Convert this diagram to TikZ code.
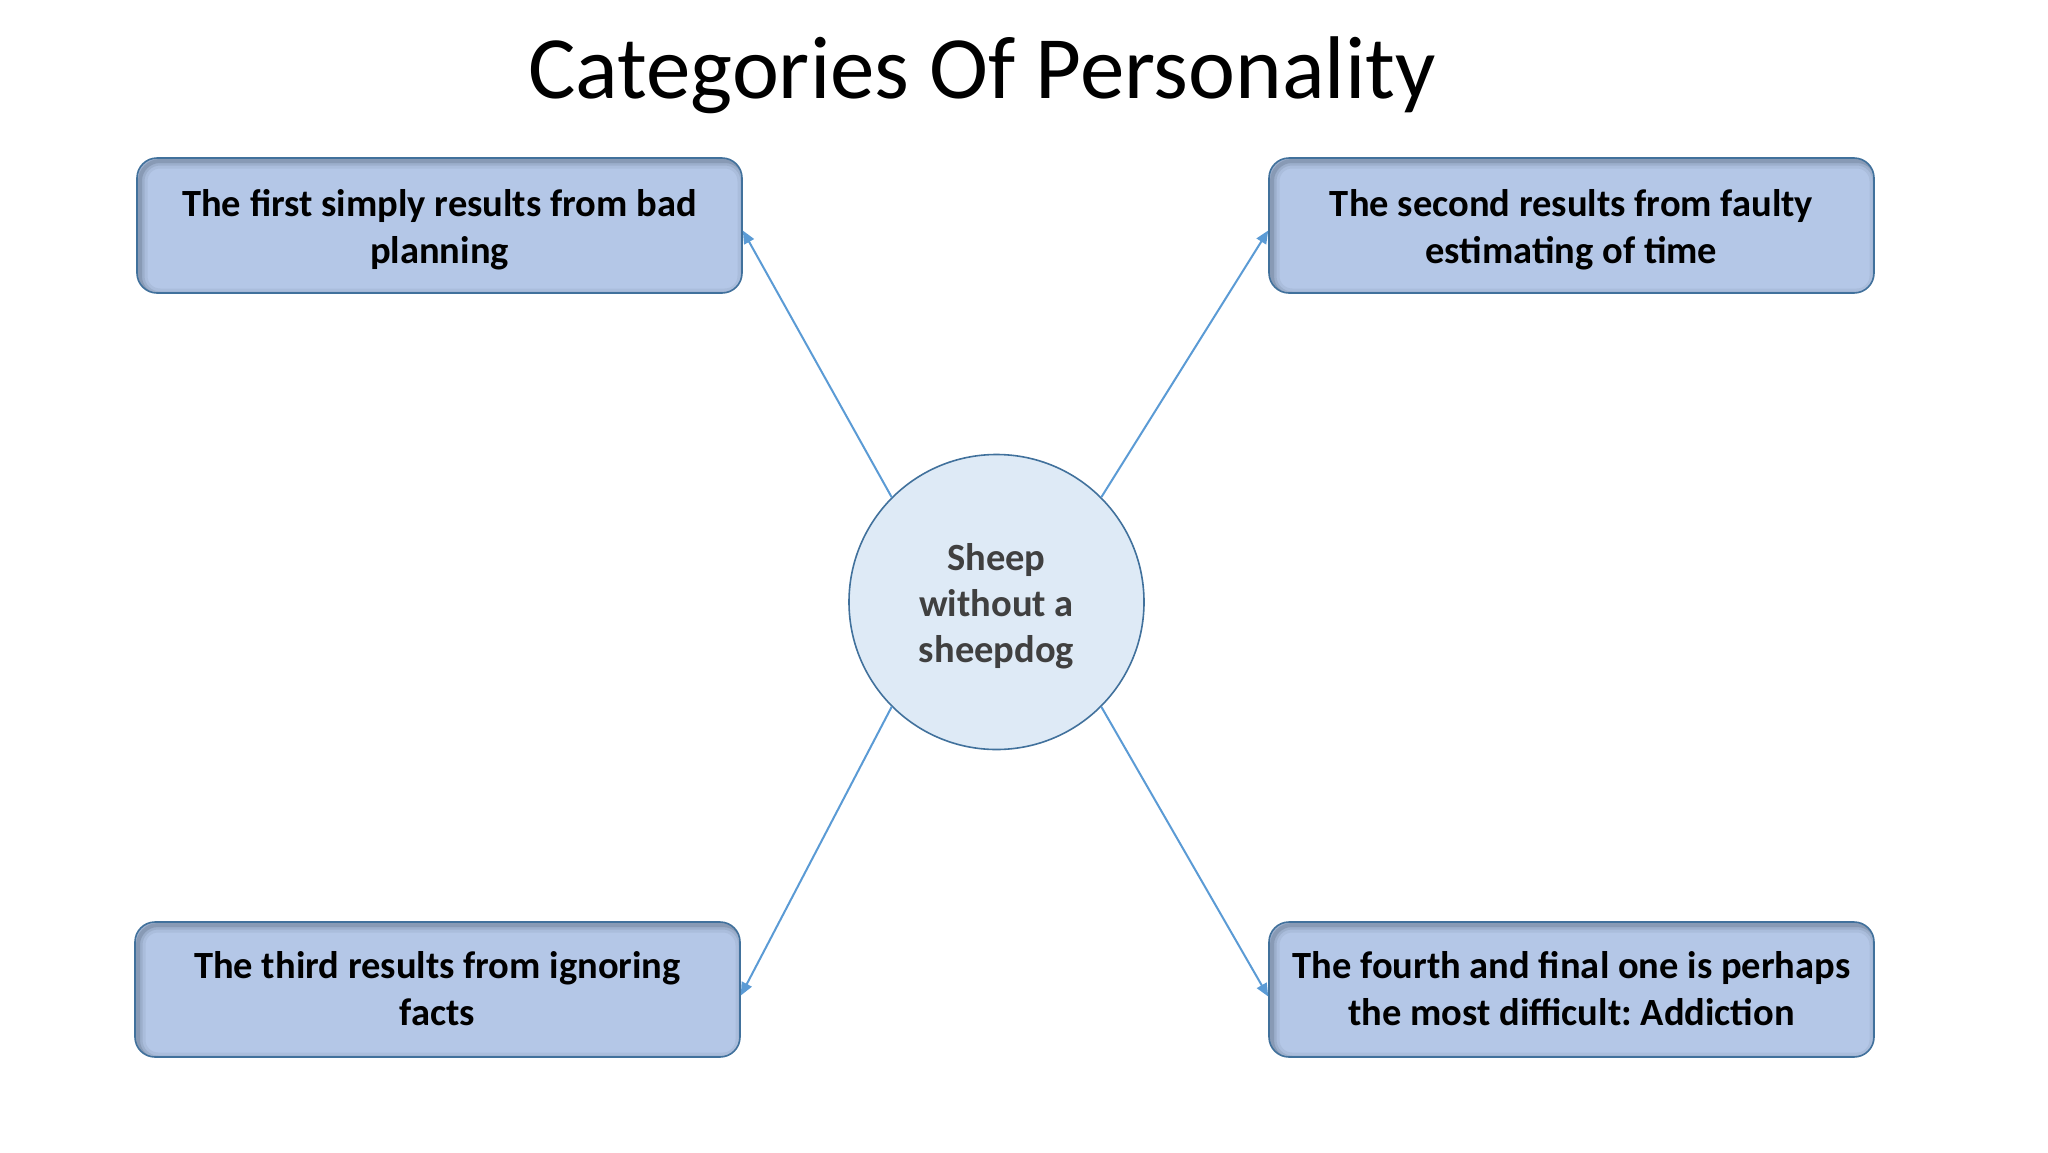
\documentclass[tikz,border=0pt]{standalone}
\usepackage{fontspec}
\setmainfont{Carlito}
\usetikzlibrary{arrows.meta}
\frenchspacing
\definecolor{boxfill}{HTML}{B4C7E7}
\definecolor{boxborder}{HTML}{41719C}
\definecolor{circfill}{HTML}{DEEAF6}
\definecolor{circborder}{HTML}{41719C}
\definecolor{conncol}{HTML}{5B9BD5}
\definecolor{circtext}{HTML}{404040}
\tikzset{
  box/.style={draw=boxborder, line width=1.6pt, fill=boxfill, rounded corners=20pt,
    minimum width=605pt, minimum height=135pt,
    path picture={
      \foreach \w/\o in {4/0.14,9/0.09,15/0.06}
        \draw[line width=\w pt, draw=black!70!boxborder, opacity=\o, rounded corners=20pt]
          ([shift={(3pt,-3pt)}]path picture bounding box.south west) rectangle
          ([shift={(3pt,-3pt)}]path picture bounding box.north east);
    }},
  boxtext/.style={align=center, font=\bfseries\fontsize{38.5}{47}\selectfont},
  hub/.style={circle, draw=circborder, line width=1.6pt, fill=circfill, minimum size=295pt, inner sep=0pt},
  hubtext/.style={align=center, text=circtext, font=\bfseries\fontsize{38.5}{46}\selectfont},
  conn/.style={draw=conncol, line width=2pt, -{Triangle[length=13pt,width=11pt]}},
  titletext/.style={font=\fontsize{89}{100}\selectfont, inner sep=0pt}
}
\begin{document}
\begin{tikzpicture}[x=1pt,y=-1pt]
\useasboundingbox[fill=white] (0,0) rectangle (2048,1152);
\node[titletext, anchor=base] (title) at (982,98) {Categories Of Personality};
\node[hub] (c) at (996.5,602) {};
\node[hubtext] (ct) at (996.5,606) {Sheep\\without a\\sheepdog};
\node[box] (b1) at (439.5,225.5) {};
\node[box] (b2) at (1571.5,225.5) {};
\node[box] (b3) at (437.5,989.5) {};
\node[box] (b4) at (1571.5,989.5) {};
\node[boxtext] (t1) at (439.5,229.5) {The first simply results from bad\\planning};
\node[boxtext] (t2) at (1571.5,229.5) {The second results from faulty\\estimating of time};
\node[boxtext] (t3) at (437.5,988.5) {The third results from ignoring\\facts};
\node[boxtext] (t4) at (1571.5,988.5) {The fourth and final one is perhaps\\the most difficult: Addiction};
\draw[conn] (c.135) -- ([yshift=-5pt]b1.east);
\draw[conn] (c.45) -- ([yshift=-5pt]b2.west);
\draw[conn] (c.225) -- ([yshift=-6pt]b3.east);
\draw[conn] (c.315) -- ([yshift=-7pt]b4.west);
\end{tikzpicture}
\end{document}
